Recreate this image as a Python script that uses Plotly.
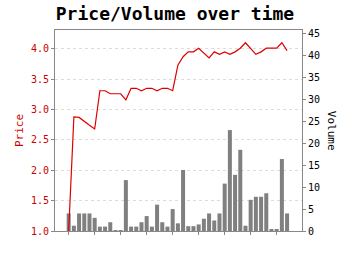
import plotly.graph_objects as go

idx = list(range(43))
price = [1.0, 2.88, 2.87, 2.80, 2.74, 2.68, 3.31, 3.31, 3.26, 3.26, 3.26, 3.16, 3.35, 3.35, 3.31,
         3.35, 3.35, 3.31, 3.35, 3.35, 3.31, 3.73, 3.87, 3.95, 3.95, 4.01, 3.93, 3.85, 3.95, 3.91,
         3.95, 3.91, 3.95, 4.01, 4.10, 4.01, 3.91, 3.95, 4.01, 4.01, 4.01, 4.10, 3.97]
volume = [4, 1.2, 4, 4, 4, 3, 1, 1, 2, 0.2, 0.2, 11.6, 1, 1, 2, 3.4, 1, 6, 2, 1, 5, 1.75,
          13.9, 1.1, 1.1, 1.5, 2.8, 4, 2.4, 4, 10.8, 23, 12.8, 18.5, 1.2, 7.1, 7.8, 7.8, 8.6,
          0.4, 0.4, 16.4, 4]
price_ticks = [1.0, 1.5, 2.0, 2.5, 3.0, 3.5, 4.0]
volume_ticks = [0, 5, 10, 15, 20, 25, 30, 35, 40, 45]

font = "DejaVu Sans Mono"
axcol = "#888888"

fig = go.Figure()
fig.add_trace(go.Bar(x=idx, y=volume, marker=dict(color="#808080", line=dict(width=0)),
                     width=0.77, yaxis="y"))
fig.add_trace(go.Scatter(x=idx, y=price, mode="lines", line=dict(color="#dd0000", width=1.2),
                         yaxis="y2"))

fig.update_layout(
    width=350, height=255,
    margin=dict(l=55, r=48, t=30, b=24),
    paper_bgcolor="white", plot_bgcolor="white",
    showlegend=False,
    font=dict(family=font, size=10, color="black"),
    title=dict(text="<b>Price/Volume over time</b>", x=0.5, xanchor="center",
               y=1 - 14 / 255, yanchor="middle", font=dict(family=font, size=18, color="black")),
    xaxis=dict(range=[-2.63, 44.87], showticklabels=False, ticks="outside", ticklen=3,
               tickcolor=axcol, tick0=0, dtick=5, showgrid=False, zeroline=False,
               showline=True, linecolor=axcol, linewidth=1, mirror=True),
    yaxis=dict(side="right", range=[0, 45.8], tickvals=volume_ticks, ticks="outside",
               ticklen=3, tickcolor=axcol, showgrid=False, zeroline=False,
               showline=True, linecolor=axcol, linewidth=1,
               tickfont=dict(family=font, size=10, color="black")),
    yaxis2=dict(side="left", overlaying="y", range=[1.0, 4.31], tickvals=price_ticks,
                tickformat=".1f", ticks="outside", ticklen=3, tickcolor=axcol,
                showgrid=True, gridcolor="#dddddd", griddash="dot", gridwidth=1,
                zeroline=False, showline=True, linecolor=axcol, linewidth=1,
                tickfont=dict(family=font, size=10, color="#cc0000"),
                title=dict(text="Price", font=dict(family=font, size=11, color="#cc0000"),
                           standoff=5)),
    annotations=[dict(text="Volume", textangle=90, x=(331.7 - 55) / 247, y=0.5,
                      xref="paper", yref="paper", xanchor="center", yanchor="middle",
                      showarrow=False, font=dict(family=font, size=11, color="black"))],
)

fig.write_html("out.html")
